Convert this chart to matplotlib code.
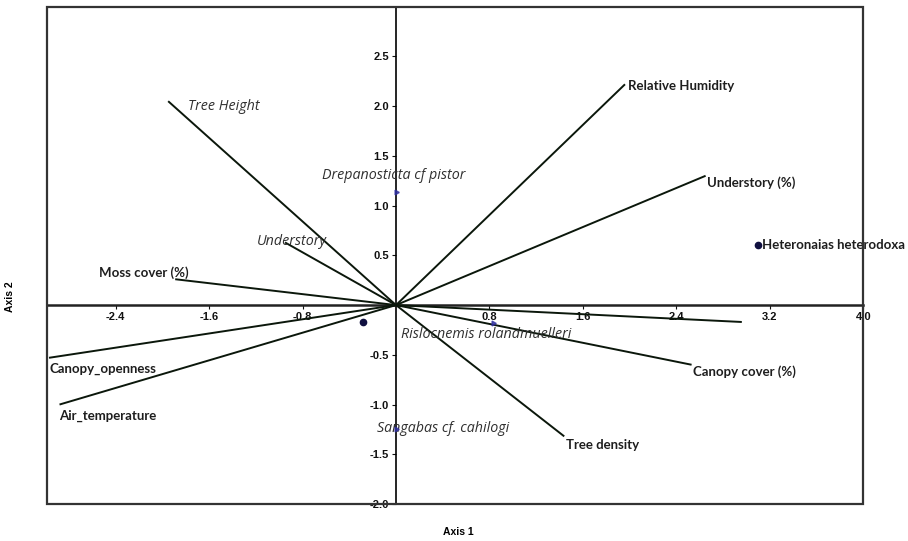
import matplotlib
matplotlib.use("Agg")
import matplotlib.pyplot as plt
from matplotlib.patches import Rectangle

# ---- data ----
env_names = ["Tree Height", "Relative Humidity", "Understory (%)", "Moss cover (%)",
             "Canopy_openness", "Air_temperature", "Canopy cover (%)", "Tree density",
             "Understory", ""]
env_x = [-1.95, 1.96, 2.65, -1.89, -2.97, -2.88, 2.53, 1.44, -0.95, 2.96]
env_y = [2.05, 2.22, 1.30, 0.26, -0.53, -1.00, -0.60, -1.32, 0.63, -0.17]

sp_names = ["Heteronaias heterodoxa", "Drepanosticta cf pistor", "Rislocnemis rolandmuelleri",
            "Sangabas cf. cahilogi", ""]
sp_x = [3.10, 0.0, 0.83, 0.0, -0.28]
sp_y = [0.60, 1.14, -0.18, -1.25, -0.17]

xticks = [-2.4, -1.6, -0.8, 0.8, 1.6, 2.4, 3.2, 4.0]
yticks = [-2.0, -1.5, -1.0, -0.5, 0.5, 1.0, 1.5, 2.0, 2.5]

# ---- styling (label offsets in points) ----
env_style = {
    "Tree Height": dict(off=(14, -4), italic=True),
    "Relative Humidity": dict(off=(2, -1), italic=False),
    "Understory (%)": dict(off=(1, -5), italic=False),
    "Moss cover (%)": dict(off=(-55, 5), italic=False),
    "Canopy_openness": dict(off=(0, -8), italic=False),
    "Air_temperature": dict(off=(0, -8), italic=False),
    "Canopy cover (%)": dict(off=(1, -5), italic=False),
    "Tree density": dict(off=(1, -6), italic=False),
    "Understory": dict(off=(-20, 1), italic=True),
    "": dict(off=(0, 0), italic=False),
}
sp_style = {
    "Heteronaias heterodoxa": dict(off=(3, 0), italic=False, marker=True),
    "Drepanosticta cf pistor": dict(off=(-53, 12), italic=True, marker=False),
    "Rislocnemis rolandmuelleri": dict(off=(-66, -8), italic=True, marker=False),
    "Sangabas cf. cahilogi": dict(off=(-14, 1), italic=True, marker=False),
    "": dict(off=(0, 0), italic=False, marker=True),
}

fig = plt.figure(figsize=(9.08, 5.41), dpi=100)
ax = fig.add_axes([0.0514, 0.0684, 0.8994, 0.9192])
ax.set_xlim(-2.99, 4.0)
ax.set_ylim(-2.0, 3.0)

linecol = "#0b170b"
textcol = "#1e1e1e"


def label(n, x, y, off, italic):
    if italic:
        ax.annotate(n, (x, y), xytext=off, textcoords="offset points",
                    fontsize=10.3, family="Open Sans", style="italic",
                    color="#303030", va="center", ha="left")
    else:
        ax.annotate(n, (x, y), xytext=off, textcoords="offset points",
                    fontsize=9.5, family="Lato", weight="bold",
                    color=textcol, va="center", ha="left")


for n, x, y in zip(env_names, env_x, env_y):
    ax.plot([0, x], [0, y], color=linecol, lw=1.4, solid_capstyle="butt", zorder=3)
    st = env_style[n]
    if n:
        label(n, x, y, st["off"], st["italic"])

for n, x, y in zip(sp_names, sp_x, sp_y):
    st = sp_style[n]
    if st["marker"]:
        ax.plot([x], [y], "o", ms=4.5, color="#101040", zorder=4)
    else:
        ax.plot([x], [y], marker=(3, 0, 30), ms=4, color="#3030a0", zorder=4, alpha=0.8)
    if n:
        label(n, x, y, st["off"], st["italic"])

# axes through origin
for s in ["top", "right"]:
    ax.spines[s].set_visible(False)
ax.spines["left"].set_position(("data", 0))
ax.spines["bottom"].set_position(("data", 0))
ax.spines["left"].set_linewidth(1.2)
ax.spines["bottom"].set_linewidth(1.8)
ax.spines["bottom"].set_color("#222222")
ax.add_patch(Rectangle((0, 0), 1, 1, transform=ax.transAxes, fill=False,
                       lw=1.6, edgecolor="#333333", zorder=5, clip_on=False))

ax.set_xticks(xticks)
ax.set_xticklabels([f"{t:.1f}" for t in xticks])
ax.set_yticks(yticks)
ax.set_yticklabels([f"{t:.1f}" for t in yticks])
ax.tick_params(axis="both", direction="out", length=3, width=0.8,
               labelsize=8, colors="#111111", pad=2)
for lab in ax.get_xticklabels() + ax.get_yticklabels():
    lab.set_family("Liberation Sans")
    lab.set_weight("bold")

fig.text(0.5045, 0.016, "Axis 1", ha="center", va="center", fontsize=7.5,
         family="Liberation Sans", weight="bold")
fig.text(0.011, 0.452, "Axis 2", ha="center", va="center", rotation=90, fontsize=7.5,
         family="Liberation Sans", weight="bold")

fig.savefig("out.png", dpi=100)
